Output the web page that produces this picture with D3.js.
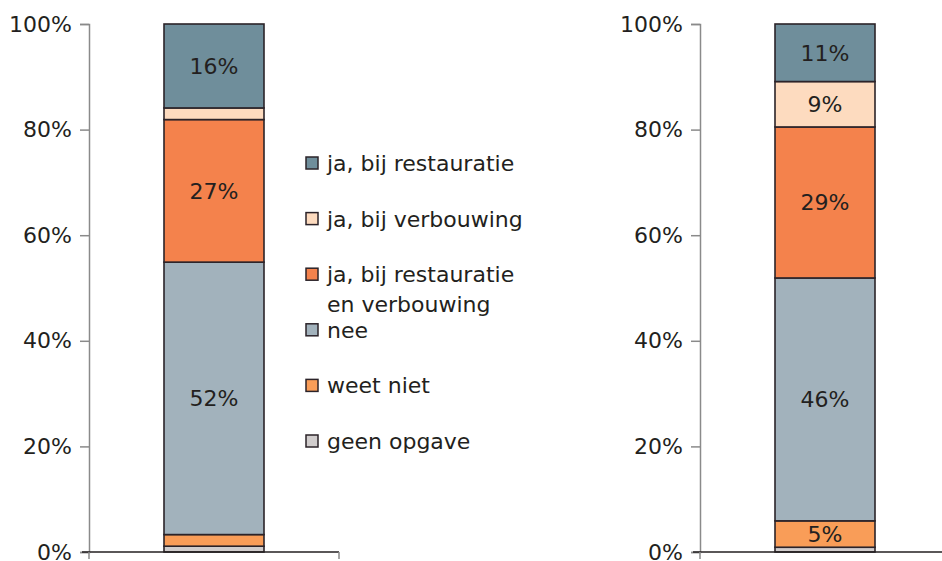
<!DOCTYPE html>
<html>
<head>
<meta charset="utf-8">
<script src="https://cdn.jsdelivr.net/npm/d3@7"></script>
<style>
    body { margin: 0; background: #fff; }
    text { font-family: "DejaVu Sans", Verdana, sans-serif; fill: #231f20; }
</style>
</head>
<body>
<script>
// legend order, top to bottom
const categories = ["ja, bij restauratie", "ja, bij verbouwing", "ja, bij restauratie en verbouwing", "nee", "weet niet", "geen opgave"];
const legendLines = [["ja, bij restauratie"], ["ja, bij verbouwing"], ["ja, bij restauratie", "en verbouwing"], ["nee"], ["weet niet"], ["geen opgave"]];
const colors = ["#6f8e9b", "#fddbbf", "#f4824c", "#a2b2bc", "#f99d58", "#d1cdcd"];

// percentages, same order as categories
const leftValues = [15.9, 2.2, 27.0, 51.6, 2.2, 1.1];
const rightValues = [10.9, 8.6, 28.6, 46.0, 5.0, 0.9];
const yTicks = [0, 20, 40, 60, 80, 100];

const width = 942, height = 561;
const fontSize = 22;
const svg = d3.select("body").append("svg")
    .attr("width", width)
    .attr("height", height);

const y = d3.scaleLinear().domain([0, 100]).range([552, 24]);

/**
 * Draw one stacked column with its own axes
 * @param values: percentages per category
 * @param x0, x1: extent of the category axis
 */
function drawChart(values, x0, x1) {
    const row = {};
    categories.forEach((c, i) => row[c] = values[i]);

    // stack from the bottom: reverse legend order
    const stack = d3.stack().keys(categories.slice().reverse())([row]);

    const x = d3.scaleBand().domain(["a"]).range([x0, x1])
        .paddingInner(0).paddingOuter(0.75);

    const g = svg.append("g");

    // y axis
    const yAxis = g.append("g")
        .attr("transform", "translate(" + x0 + ",0)")
        .call(d3.axisLeft(y).tickValues(yTicks).tickSize(9).tickPadding(8)
            .tickFormat(d => d + "%"));
    yAxis.select(".domain").attr("stroke", "#8a8a8a").attr("stroke-width", 1.5);
    yAxis.selectAll(".tick line").attr("stroke", "#8a8a8a").attr("stroke-width", 1.5);
    yAxis.selectAll(".tick text").attr("font-size", fontSize)
        .attr("font-family", "DejaVu Sans").attr("fill", "#231f20");

    // bars
    stack.forEach(layer => {
        const idx = categories.indexOf(layer.key);
        const d = layer[0];
        g.append("rect")
            .attr("x", x("a"))
            .attr("width", x.bandwidth())
            .attr("y", y(d[1]))
            .attr("height", y(d[0]) - y(d[1]))
            .attr("fill", colors[idx])
            .attr("stroke", "#2b2329")
            .attr("stroke-width", 1.6);

        if (values[idx] >= 4) {
            g.append("text")
                .attr("x", x("a") + x.bandwidth() / 2)
                .attr("y", (y(d[0]) + y(d[1])) / 2)
                .attr("dy", "0.36em")
                .attr("text-anchor", "middle")
                .attr("font-size", fontSize)
                .text(d3.format(".0f")(values[idx]) + "%");
        }
    });

    // category axis (baseline with end ticks)
    g.append("line")
        .attr("x1", x0 - 7).attr("x2", x1)
        .attr("y1", y(0)).attr("y2", y(0))
        .attr("stroke", "#231f20").attr("stroke-width", 1.6);
    [x0, x1].forEach(px => {
        g.append("line")
            .attr("x1", px).attr("x2", px)
            .attr("y1", y(0)).attr("y2", y(0) + 7)
            .attr("stroke", "#8a8a8a").attr("stroke-width", 1.5);
    });
}

drawChart(leftValues, 89, 339);
drawChart(rightValues, 700, 950);

// legend
const legend = svg.append("g");
legendLines.forEach((lines, i) => {
    const cy = 163 + i * 55.6;
    legend.append("rect")
        .attr("x", 306).attr("y", cy - 6)
        .attr("width", 12).attr("height", 12)
        .attr("fill", colors[i])
        .attr("stroke", "#2b2329").attr("stroke-width", 1.5);
    const t = legend.append("text")
        .attr("x", 327).attr("y", cy)
        .attr("font-size", fontSize);
    lines.forEach((l, j) => {
        t.append("tspan")
            .attr("x", 327)
            .attr("dy", j === 0 ? "0.36em" : 30)
            .text(l);
    });
});
</script>
</body>
</html>
